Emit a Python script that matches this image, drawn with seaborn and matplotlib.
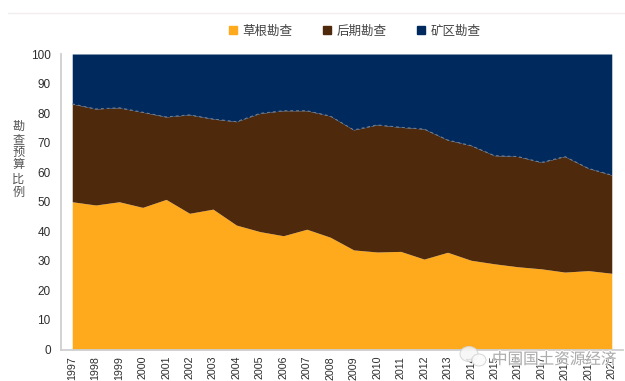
import matplotlib
matplotlib.use("Agg")
import matplotlib.pyplot as plt
from matplotlib.lines import Line2D
from matplotlib.patches import Ellipse
import matplotlib.patheffects as pe
import numpy as np
import pandas as pd
import seaborn as sns

# Share of the exploration budget by stage, in percent
years = [str(y) for y in range(1997, 2021)]
grassroots = [50, 48.9, 50, 48.1, 50.8, 46.1, 47.5, 42.1, 39.9, 38.5, 40.7, 38,
              33.7, 33, 33.2, 30.6, 32.9, 30.2, 29, 28, 27.3, 26.2, 26.7, 25.8]
late_stage = [33.1, 32.5, 31.8, 32.2, 27.9, 33.3, 30.5, 35, 40, 42.3, 40.1, 41,
              40.6, 43, 42, 44, 38, 38.8, 36.6, 37.3, 36, 39.1, 34.6, 33.2]
mine_site = [16.9, 18.6, 18.2, 19.7, 21.3, 20.6, 22, 22.9, 20.1, 19.2, 19.2, 21,
             25.7, 24, 24.8, 25.4, 29.1, 31, 34.4, 34.7, 36.7, 34.7, 38.7, 41]
series_names = ["草根勘查", "后期勘查", "矿区勘查"]
series_colors = ["#FFA91C", "#4F290C", "#002A5E"]
y_ticks = list(range(0, 101, 10))
y_title = "勘查预算比例"
watermark = "中国国土资源经济"

sns.set_theme(style="white")
plt.rcParams["font.family"] = ["Liberation Sans", "Noto Sans CJK SC", "DejaVu Sans"]
palette = sns.color_palette(series_colors)

fig = plt.figure(figsize=(6.25, 3.81), dpi=100, facecolor="white")
ax = fig.add_axes([60.5 / 625, 31.5 / 381, 563 / 625, 295.5 / 381])

positions = np.arange(len(years))
ax.stackplot(positions, grassroots, late_stage, mine_site, colors=palette, linewidth=0)

# Pale dashed seam along the top of the late-stage band
frame = pd.DataFrame({
    "pos": positions,
    "seam": np.array(grassroots) + np.array(late_stage),
})
sns.lineplot(data=frame, x="pos", y="seam", ax=ax, color="#7d7f88",
             linewidth=0.7, linestyle=(0, (3, 3)), errorbar=None)

ax.set_xlim(-0.5, len(years) - 0.5)
ax.set_ylim(0, 100)
ax.set_xlabel("")
ax.set_ylabel("")

ax.set_yticks(y_ticks)
ax.set_xticks(positions)
ax.set_xticklabels(years, rotation=90)
ax.tick_params(axis="y", labelsize=8.5, labelcolor="#2e2e2e", length=0, pad=7)
ax.tick_params(axis="x", labelsize=7.7, labelcolor="#2e2e2e", length=0, pad=4.6)

# Tick marks sit on the category boundaries, between the year labels
edge_ticks = np.arange(-0.5, len(years), 1.0)
ax.set_xticks(edge_ticks, minor=True)
ax.set_yticks(y_ticks, minor=True)
ax.tick_params(axis="both", which="minor", length=3.5, width=1, color="#c9c9c9")

sns.despine(ax=ax)
for side in ("left", "bottom"):
    ax.spines[side].set_color("#cfcfcf")
    ax.spines[side].set_linewidth(1.3)

fig.text(18.5 / 625, 1 - 159 / 381, "\n".join(y_title), ha="center", va="center",
         fontsize=8.8, color="#555555", linespacing=1.02,
         family=["Noto Sans CJK SC", "DejaVu Sans"])

handles = [Line2D([], [], linestyle="none", marker="s", markersize=5.2,
                  markerfacecolor=c, markeredgecolor=c) for c in palette]
fig.legend(handles, series_names, loc="center", ncol=3, frameon=False,
           bbox_to_anchor=(353 / 625, 1 - 31 / 381), prop={"size": 9, "family": ["Noto Sans CJK SC"]},
           labelcolor="#444444", handletextpad=0.15, columnspacing=2.16, handlelength=1.2)

# Thin rule across the top of the page
fig.add_artist(Line2D([8 / 625, 1], [1 - 12.5 / 381] * 2, color="#f4edf0", linewidth=1))

# Account mark and name stamped over the lower right corner
fig.add_artist(Ellipse((469 / 625, 1 - 354 / 381), 18 / 625, 15 / 381, facecolor="#f6f6f6",
                       edgecolor="#d4d4d4", linewidth=0.8, alpha=0.85))
fig.add_artist(Ellipse((479 / 625, 1 - 360 / 381), 14 / 625, 12 / 381, facecolor="#fbfbfb",
                       edgecolor="#d4d4d4", linewidth=0.8, alpha=0.85))
fig.text(554 / 625, 1 - 359.5 / 381, watermark, ha="center", va="center", fontsize=11.2,
         color="#999999", alpha=0.75, family=["Noto Sans CJK SC"],
         path_effects=[pe.withStroke(linewidth=1.4, foreground="white", alpha=0.7)])

fig.savefig("out.png", dpi=100, facecolor="white")
